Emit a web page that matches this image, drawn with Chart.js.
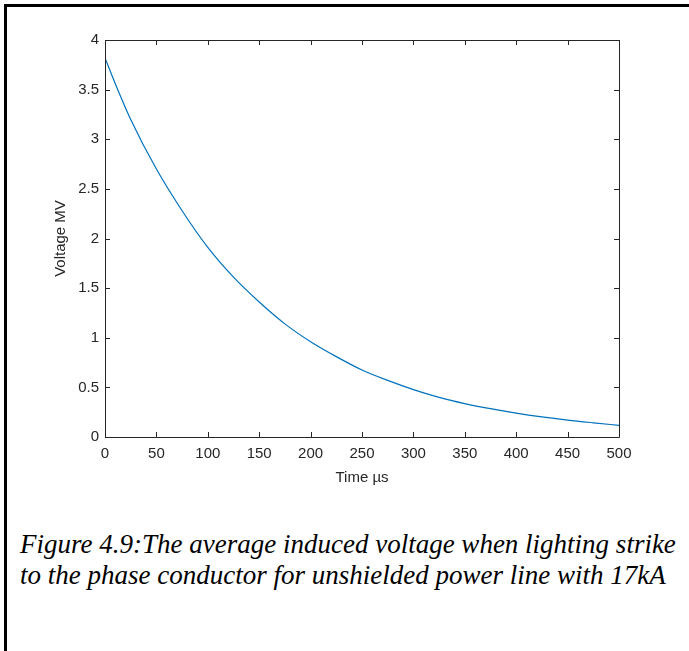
<!DOCTYPE html>
<html>
<head>
<meta charset="utf-8">
<script src="https://cdn.jsdelivr.net/npm/chart.js@4.4.0/dist/chart.umd.min.js"></script>
<style>
  html, body { margin: 0; padding: 0; background: #fff; }
  body { width: 689px; height: 651px; position: relative; overflow: hidden; }
  #frame {
    position: absolute; left: 4px; top: 4px; width: 700px; height: 700px;
    border-left: 3px solid #000; border-top: 3px solid #000;
  }
  #wrap { position: absolute; left: 0; top: 0; width: 689px; height: 500px; }
  #caption {
    position: absolute; left: 20px; top: 529px; width: 680px;
    font-family: "Liberation Serif", "Times New Roman", serif;
    font-style: italic; font-size: 27px; line-height: 31px; color: #000;
    white-space: nowrap;
  }
</style>
</head>
<body>
<div id="frame"></div>
<div id="wrap"><canvas id="chart"></canvas></div>
<div id="caption">Figure 4.9:The average induced voltage when lighting strike<br>to the phase conductor for unshielded power line with 17kA</div>
<script>
  // Data
  const timeUs = [0, 10, 25, 50, 75, 100, 125, 150, 175, 200, 225, 250, 275, 300, 325, 350, 375, 400, 425, 450, 475, 500];
  const voltageMV = [3.82, 3.56, 3.20, 2.70, 2.28, 1.91, 1.61, 1.36, 1.14, 0.96, 0.81, 0.675, 0.57, 0.478, 0.40, 0.337, 0.285, 0.24, 0.202, 0.17, 0.143, 0.118];
  const xTicks = [0, 50, 100, 150, 200, 250, 300, 350, 400, 450, 500];
  const yTicks = [0, 0.5, 1, 1.5, 2, 2.5, 3, 3.5, 4];

  const axisColor = "#262626";
  const tickFont = { family: "Liberation Sans, Arial, sans-serif", size: 15 };

  // MATLAB style box with inward ticks on all four sides
  const boxPlugin = {
    id: "box",
    afterDraw(chart) {
      const { ctx, chartArea: a, scales } = chart;
      const len = 5;
      ctx.save();
      ctx.strokeStyle = axisColor;
      ctx.lineWidth = 1;
      ctx.beginPath();
      ctx.rect(a.left + 0.5, a.top + 0.5, a.right - a.left, a.bottom - a.top);
      xTicks.forEach((v) => {
        const px = Math.round(scales.x.getPixelForValue(v)) + 0.5;
        ctx.moveTo(px, a.bottom); ctx.lineTo(px, a.bottom - len);
        ctx.moveTo(px, a.top); ctx.lineTo(px, a.top + len);
      });
      yTicks.forEach((v) => {
        const py = Math.round(scales.y.getPixelForValue(v)) + 0.5;
        ctx.moveTo(a.left, py); ctx.lineTo(a.left + len, py);
        ctx.moveTo(a.right, py); ctx.lineTo(a.right - len, py);
      });
      ctx.stroke();
      ctx.restore();
    },
  };

  new Chart(document.getElementById("chart"), {
    type: "line",
    data: {
      datasets: [
        {
          data: timeUs.map((t, i) => ({ x: t, y: voltageMV[i] })),
          borderColor: "#0072BD",
          borderWidth: 1.2,
          pointRadius: 0,
          cubicInterpolationMode: "monotone",
          fill: false,
        },
      ],
    },
    options: {
      responsive: true,
      maintainAspectRatio: false,
      animation: false,
      layout: { padding: { top: 40, right: 70, left: 48, bottom: 9 } },
      plugins: { legend: { display: false }, tooltip: { enabled: false } },
      scales: {
        x: {
          type: "linear",
          min: 0,
          max: 500,
          afterBuildTicks: (s) => { s.ticks = xTicks.map((v) => ({ value: v })); },
          afterFit: (s) => { s.height = 54; },
          grid: { display: false, drawTicks: false },
          border: { display: false },
          ticks: { color: axisColor, font: tickFont, padding: 8, maxRotation: 0, callback: (v) => String(v) },
          title: { display: true, text: "Time µs", color: axisColor, font: tickFont, padding: { top: 0 } },
        },
        y: {
          type: "linear",
          min: 0,
          max: 4,
          afterBuildTicks: (s) => { s.ticks = yTicks.map((v) => ({ value: v })); },
          afterFit: (s) => { s.width = 57; },
          grid: { display: false, drawTicks: false },
          border: { display: false },
          ticks: { color: axisColor, font: tickFont, padding: 6, callback: (v) => String(v) },
          title: { display: true, text: "Voltage MV", color: axisColor, font: tickFont, padding: { top: 4, bottom: 0 } },
        },
      },
    },
    plugins: [boxPlugin],
  });
</script>
</body>
</html>
